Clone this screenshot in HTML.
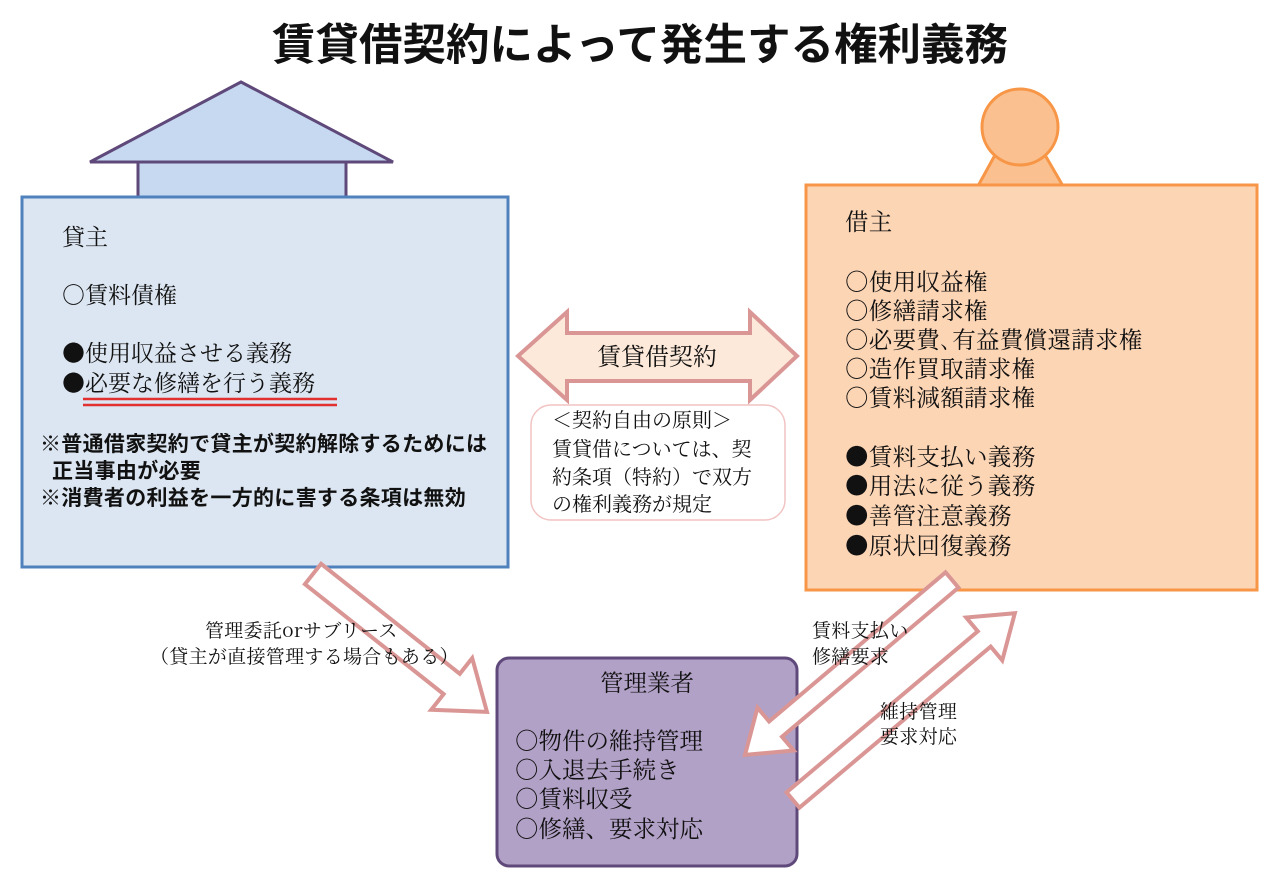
<!DOCTYPE html>
<html><head><meta charset="utf-8"><style>
body{margin:0;background:#fff}
svg{display:block}
.s{font-family:"Noto Serif CJK JP","Noto Serif CJK SC","Liberation Serif",serif;fill:#111}
.b{font-family:"Noto Sans CJK JP","Liberation Sans",sans-serif;font-weight:bold;fill:#111}
</style></head><body>
<svg width="1280" height="890" viewBox="0 0 1280 890" xmlns="http://www.w3.org/2000/svg">
<text x="640" y="60" text-anchor="middle" class="b" font-size="43.5">賃貸借契約によって発生する権利義務</text>
<polygon points="90,162 241,82 393,162" fill="#c6d9f1" stroke="#5f497a" stroke-width="3"/>
<rect x="138" y="162" width="208" height="36" fill="#c6d9f1" stroke="#5f497a" stroke-width="3"/>
<rect x="22" y="197" width="486" height="370" fill="#dce6f2" stroke="#4f81bd" stroke-width="3"/>
<g class="s" font-size="23">
<text x="62" y="245">貸主</text>
<text x="62" y="303">○賃料債権</text>
<text x="62" y="361">●使用収益させる義務</text>
<text x="62" y="391">●必要な修繕を行う義務</text>
</g>
<line x1="83" y1="399" x2="337" y2="399" stroke="#e03030" stroke-width="2.5"/>
<line x1="83" y1="405" x2="337" y2="405" stroke="#e03030" stroke-width="2.5"/>
<g class="b" font-size="21" letter-spacing="0.3">
<text x="40" y="451">※普通借家契約で貸主が契約解除するためには</text>
<text x="52" y="478">正当事由が必要</text>
<text x="40" y="505">※消費者の利益を一方的に害する条項は無効</text>
</g>
<polygon points="978,186 995,155 1045,155 1063,186" fill="#fac090" stroke="#f79646" stroke-width="3"/>
<circle cx="1020" cy="127" r="38" fill="#fac090" stroke="#f79646" stroke-width="3"/>
<rect x="806" y="185" width="451" height="405" fill="#fcd5b5" stroke="#f79646" stroke-width="3"/>
<g class="s" font-size="23.5" letter-spacing="0.3">
<text x="845" y="230">借主</text>
<text x="845" y="290">○使用収益権</text>
<text x="845" y="319">○修繕請求権</text>
<text x="845" y="348">○必要費､有益費償還請求権</text>
<text x="845" y="377">○造作買取請求権</text>
<text x="845" y="406">○賃料減額請求権</text>
<text x="845" y="465">●賃料支払い義務</text>
<text x="845" y="494">●用法に従う義務</text>
<text x="845" y="524">●善管注意義務</text>
<text x="845" y="554">●原状回復義務</text>
</g>
<polygon points="518,356 567,312 567,333 750,333 750,312 797,356 750,400 750,381 567,381 567,400" fill="#fde9d9" stroke="#d99694" stroke-width="4"/>
<text x="657" y="365" text-anchor="middle" class="s" font-size="24">賃貸借契約</text>
<rect x="531" y="405" width="254" height="115" rx="20" fill="#fff" stroke="#f2c4c4" stroke-width="1.5"/>
<g class="s" font-size="20">
<text x="552" y="427">＜契約自由の原則＞</text>
<text x="552" y="456">賃貸借については、契</text>
<text x="552" y="484">約条項（特約）で双方</text>
<text x="552" y="511">の権利義務が規定</text>
</g>
<rect x="497" y="658" width="300" height="208" rx="12" fill="#b2a1c7" stroke="#5f497a" stroke-width="3"/>
<g class="s" font-size="23.5">
<text x="647" y="691" text-anchor="middle">管理業者</text>
<text x="515" y="749">○物件の維持管理</text>
<text x="515" y="778">○入退去手続き</text>
<text x="515" y="807">○賃料収受</text>
<text x="515" y="837">○修繕、要求対応</text>
</g>
<g fill="#fff" stroke="#d99694" stroke-width="4">
<polygon transform="translate(313,574) rotate(38.4)" points="0,-13 177,-13 177,-33 222,0 177,33 177,13 0,13"/>
<polygon transform="translate(952,580) rotate(139.8)" points="0,-10 231,-10 231,-28 271,0 231,28 231,10 0,10"/>
<polygon transform="translate(793,800) rotate(-40.1)" points="0,-10 250,-10 250,-28 290,0 250,28 250,10 0,10"/>
</g>
<g class="s" font-size="19" letter-spacing="0.3">
<text x="205" y="637">管理委託orサブリース</text>
<text x="150" y="663">（貸主が直接管理する場合もある）</text>
<text x="812" y="637">賃料支払い</text>
<text x="812" y="663">修繕要求</text>
<text x="880" y="718">維持管理</text>
<text x="880" y="743">要求対応</text>
</g>
</svg>
</body></html>
